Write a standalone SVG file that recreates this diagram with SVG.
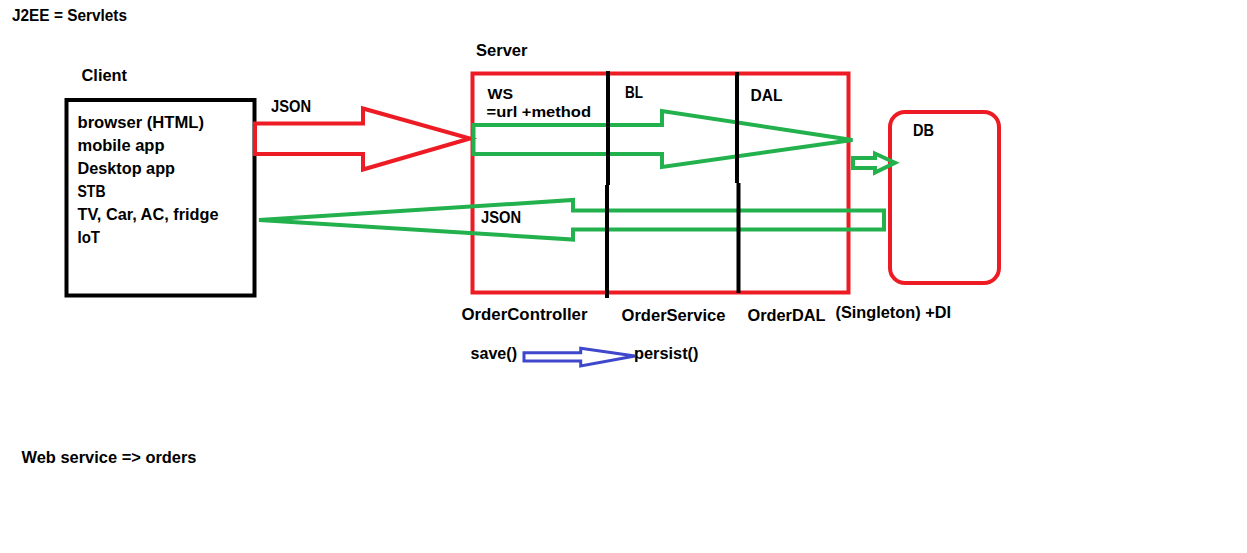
<svg xmlns="http://www.w3.org/2000/svg" width="1247" height="553" viewBox="0 0 1247 553">
<style>
  text { font-family: "Liberation Sans", Arial, sans-serif; font-weight: bold; font-size: 17px; fill: #000; }
  text.sm { font-size: 15.5px; }
  .red { fill: none; stroke: #ED1C24; stroke-width: 4; stroke-linejoin: miter; }
  .green { fill: none; stroke: #22B14C; stroke-width: 4; stroke-linejoin: miter; }
  .blue { fill: none; stroke: #3F48CC; stroke-width: 3; stroke-linejoin: miter; }
  .blk { fill: none; stroke: #000; stroke-width: 4; }
</style>
<rect width="1247" height="553" fill="#fff"/>

<g id="title">
  <text x="12" y="21" textLength="115" lengthAdjust="spacingAndGlyphs">J2EE = Servlets</text>
</g>

<g id="client">
  <text x="81.5" y="81" textLength="45.5" lengthAdjust="spacingAndGlyphs">Client</text>
  <rect class="blk" x="66.5" y="100" width="188" height="195.5"/>
  <text x="77.5" y="128" textLength="126.5" lengthAdjust="spacingAndGlyphs">browser (HTML)</text>
  <text x="77.5" y="151" textLength="87" lengthAdjust="spacingAndGlyphs">mobile app</text>
  <text x="77.5" y="174" textLength="97.5" lengthAdjust="spacingAndGlyphs">Desktop app</text>
  <text x="77.5" y="197" textLength="28" lengthAdjust="spacingAndGlyphs">STB</text>
  <text x="77.5" y="220" textLength="141" lengthAdjust="spacingAndGlyphs">TV, Car, AC, fridge</text>
  <text x="77.5" y="243" textLength="22.5" lengthAdjust="spacingAndGlyphs">IoT</text>
</g>

<g id="server">
  <text x="476" y="56" textLength="51.5" lengthAdjust="spacingAndGlyphs">Server</text>
  <rect class="red" x="472.5" y="73.5" width="376" height="219"/>
  <text class="sm" x="487.5" y="98.5" textLength="25.5" lengthAdjust="spacingAndGlyphs">WS</text>
  <text class="sm" x="486.5" y="116.5" textLength="104.5" lengthAdjust="spacingAndGlyphs">=url +method</text>
  <text x="625" y="97.5" textLength="18" lengthAdjust="spacingAndGlyphs">BL</text>
  <text x="750.5" y="100.5" textLength="32" lengthAdjust="spacingAndGlyphs">DAL</text>
  <text x="461.5" y="319.5" textLength="126" lengthAdjust="spacingAndGlyphs">OrderController</text>
  <text x="621.5" y="320.5" textLength="104" lengthAdjust="spacingAndGlyphs">OrderService</text>
  <text x="747.5" y="320.5" textLength="78" lengthAdjust="spacingAndGlyphs">OrderDAL</text>
  <text x="835.5" y="317.5" textLength="115.5" lengthAdjust="spacingAndGlyphs">(Singleton) +DI</text>
</g>

<g id="db">
  <rect class="red" x="890" y="112" width="109" height="171" rx="15" ry="15"/>
  <text x="913" y="136" textLength="21" lengthAdjust="spacingAndGlyphs">DB</text>
</g>

<g id="connectors">
  <polygon class="red" points="255,123.5 363,123.5 363,108.5 470,138.5 363,169.5 363,154 255,154"/>
  <text x="271" y="111.5" textLength="40" lengthAdjust="spacingAndGlyphs">JSON</text>
  <polygon class="green" points="473.5,125 662,125 662,111 852.5,140 662,167 662,154 473.5,154"/>
  <polygon class="green" points="884,210.5 573,210.5 573,200 259,220 573,239.5 573,229.5 884,229.5"/>
  <text x="481" y="223" textLength="40" lengthAdjust="spacingAndGlyphs">JSON</text>
  <polygon class="green" points="853,158 875,158 875,153.5 895,162.7 875,172.5 875,168 853,168"/>
  <polygon class="blue" points="524,352.7 580.7,352.7 580.7,348.3 635,356 580.7,366 580.7,361 524,361"/>
</g>

<g id="layers">
  <line class="blk" x1="608" y1="71" x2="608" y2="185"/>
  <line class="blk" x1="607" y1="185" x2="607" y2="298"/>
  <line class="blk" x1="737" y1="72" x2="737" y2="183"/>
  <line class="blk" x1="738.5" y1="183" x2="738.5" y2="293"/>
</g>

<g id="calls">
  <text x="470.5" y="358.5" textLength="46.5" lengthAdjust="spacingAndGlyphs">save()</text>
  <text x="634" y="358.5" textLength="64.5" lengthAdjust="spacingAndGlyphs">persist()</text>
</g>

<g id="note">
  <text x="21.5" y="462.5" textLength="175" lengthAdjust="spacingAndGlyphs">Web service =&gt; orders</text>
</g>
</svg>
